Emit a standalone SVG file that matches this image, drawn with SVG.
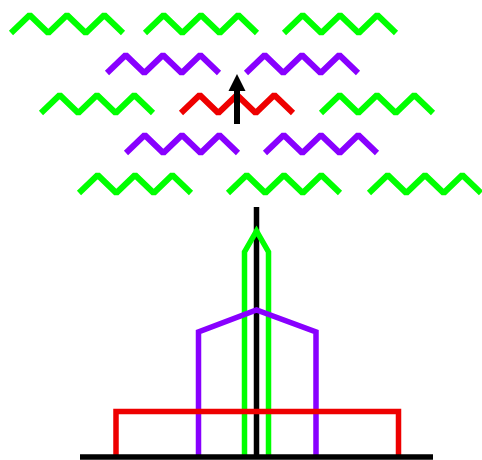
<svg xmlns="http://www.w3.org/2000/svg" xmlns:xlink="http://www.w3.org/1999/xlink" width="482" height="460" viewBox="0 0 482 460">
  <style>
    .zz { fill: none; stroke-width: 6; stroke-linejoin: bevel; stroke-linecap: butt; }
    .g { stroke: #00ff00; }
    .p { stroke: #8800ff; }
    .r { stroke: #ee0000; }
    .k { stroke: #000000; }
    .br { fill: none; stroke-width: 5.5; stroke-linejoin: miter; stroke-linecap: butt; }
  </style>
  <defs>
    <!-- one three-peak zigzag, 112 wide and 18 high -->
    <polyline id="zig" points="0,18 18.7,0 37.3,18 56,0 74.7,18 93.3,0 112,18"/>
  </defs>

  <!-- zigzag rows -->
  <g id="row1">
    <g id="z1a"><use xlink:href="#zig" class="zz g" x="11" y="15"/></g>
    <g id="z1b"><use xlink:href="#zig" class="zz g" x="145" y="15"/></g>
    <g id="z1c"><use xlink:href="#zig" class="zz g" x="284" y="15"/></g>
  </g>
  <g id="row2">
    <g id="z2a"><use xlink:href="#zig" class="zz p" x="107" y="55"/></g>
    <g id="z2b"><use xlink:href="#zig" class="zz p" x="246" y="55"/></g>
  </g>
  <g id="row3">
    <g id="z3a"><use xlink:href="#zig" class="zz g" x="41" y="95"/></g>
    <g id="z3b"><use xlink:href="#zig" class="zz r" x="181" y="95"/></g>
    <g id="z3c"><use xlink:href="#zig" class="zz g" x="321" y="95"/></g>
  </g>
  <g id="row4">
    <g id="z4a"><use xlink:href="#zig" class="zz p" x="126" y="135"/></g>
    <g id="z4b"><use xlink:href="#zig" class="zz p" x="265" y="135"/></g>
  </g>
  <g id="row5">
    <g id="z5a"><use xlink:href="#zig" class="zz g" x="79" y="175"/></g>
    <g id="z5b"><use xlink:href="#zig" class="zz g" x="228" y="175"/></g>
    <g id="z5c"><use xlink:href="#zig" class="zz g" x="369" y="175"/></g>
  </g>

  <!-- upward arrow over the red zigzag -->
  <g id="arrow">
    <line x1="237" y1="124" x2="237" y2="91" stroke="#000" stroke-width="6"/>
    <path d="M228.5,91 L237,74 L245.5,91 Z" fill="#000"/>
  </g>

  <!-- branching tree -->
  <g id="tree">
    <line class="br k" x1="256.5" y1="207" x2="256.5" y2="457" stroke-width="6"/>
    <polyline class="br g" points="244.5,457 244.5,252 256.5,231 268.5,252 268.5,457"/>
    <polyline class="br p" points="198.5,457 198.5,332 256.5,310 316,332 316,457"/>
    <polyline class="br r" points="116,457 116,411.5 398.5,411.5 398.5,457"/>
    <line class="br k" x1="80" y1="457" x2="433" y2="457" stroke-width="6"/>
  </g>
</svg>
